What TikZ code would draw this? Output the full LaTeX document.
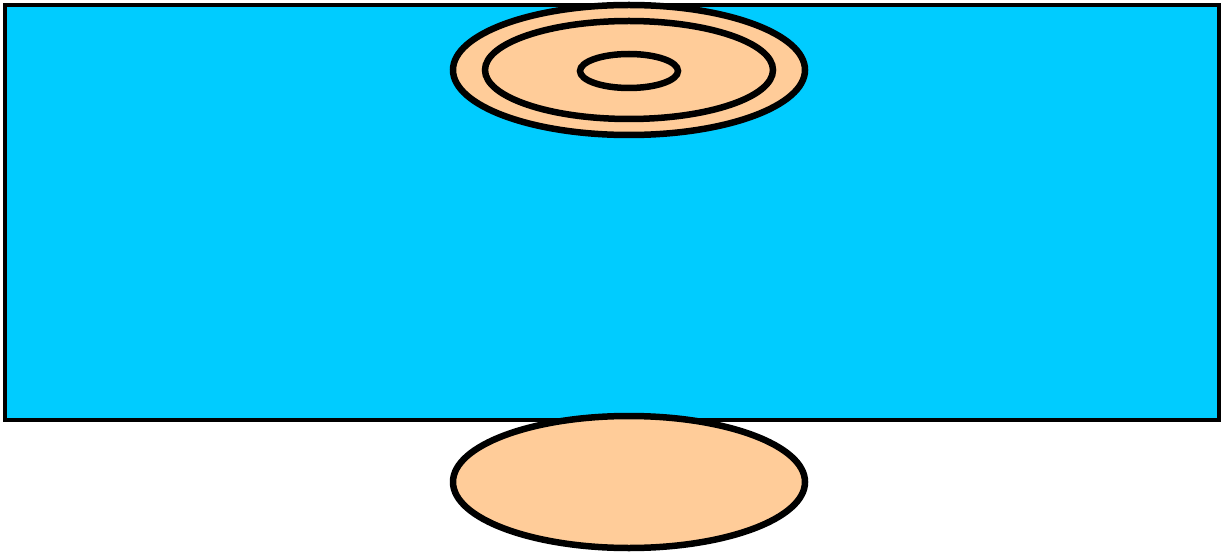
\documentclass[tikz,border=0pt]{standalone}
\usepackage{tikz}
\usepackage{xcolor}
\usetikzlibrary{shapes.geometric}

\definecolor{water}{HTML}{00CCFF}
\definecolor{peach}{HTML}{FFCC99}

\begin{document}
\begin{tikzpicture}[
      x=1pt,y=-1pt,
      pool/.style={draw,line width=4.5pt,fill=water},
      disc/.style={draw,ellipse,line width=6.5pt,fill=peach,inner sep=0pt}]
    \useasboundingbox (0,0) rectangle (1222,553);
    \draw[pool] (5,5) rectangle (1219,420);
    \node[disc,minimum width=352pt,minimum height=130pt] (topdisc) at (629,70) {};
    \node[disc,minimum width=288pt,minimum height=98pt] (middisc) at (629,70) {};
    \node[disc,minimum width=98pt,minimum height=34pt] (hole) at (629,71) {};
    \node[disc,minimum width=352pt,minimum height=132pt] (base) at (629,482) {};
  \end{tikzpicture}
\end{document}
